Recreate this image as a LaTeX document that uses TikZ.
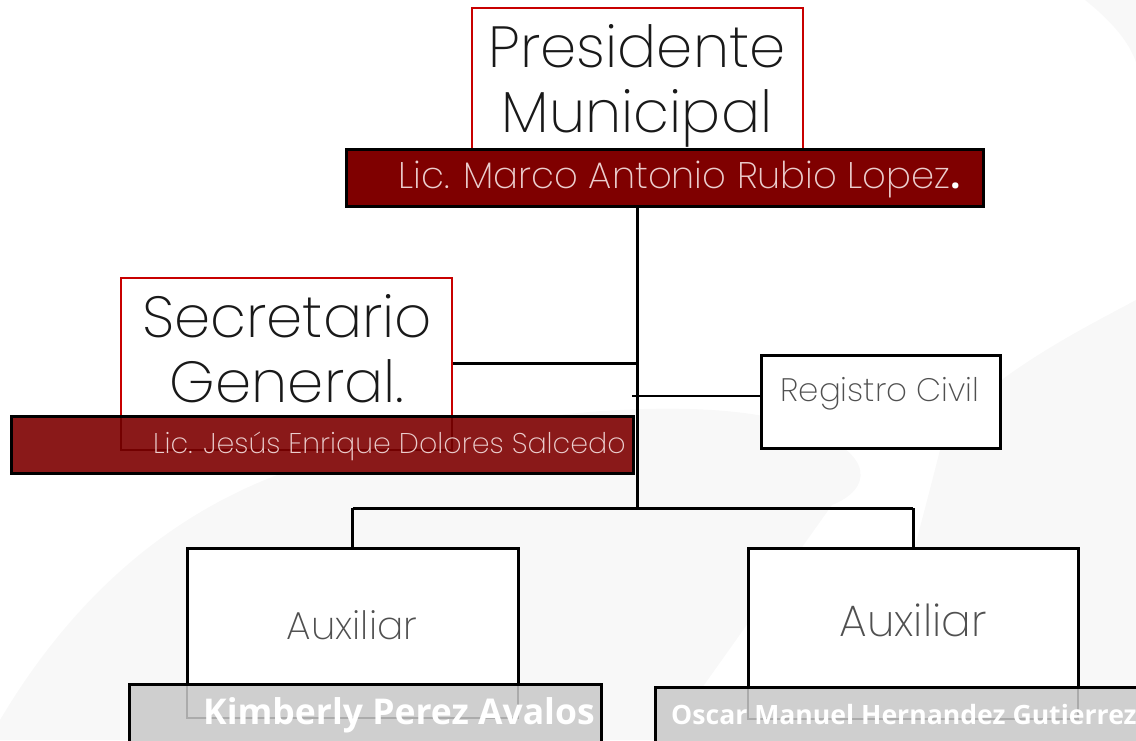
\documentclass[tikz,border=0pt]{standalone}
\usepackage{fontspec}
\IfFontExistsTF{Poppins ExtraLight}{\newfontfamily\thinfont{Poppins ExtraLight}}{\newfontfamily\thinfont{Poppins Light}}
\newfontfamily\namefont{Open Sans}
\definecolor{redline}{HTML}{C80000}
\definecolor{darkbar}{HTML}{7F0000}
\definecolor{redbar}{HTML}{8A1919}
\definecolor{redunder}{HTML}{730000}
\definecolor{graybar}{HTML}{CFCFCF}
\definecolor{grayunder}{HTML}{ABABAB}
\definecolor{bgswoosh}{HTML}{F8F8F8}
\definecolor{txtgray}{HTML}{505050}
\definecolor{pinktxt}{HTML}{EBCDCD}
\begin{document}
\begin{tikzpicture}[x=1pt,y=-1pt,
  box/.style={draw=black, line width=3pt, fill=white, inner sep=0pt},
  redbox/.style={draw=redline, line width=2.2pt, fill=white, inner sep=0pt},
  darkstrip/.style={draw=black, line width=3pt, fill=darkbar, inner sep=0pt},
  redstrip/.style={draw=black, line width=3pt, fill=redbar, inner sep=0pt},
  graystrip/.style={draw=black, line width=3pt, fill=graybar, inner sep=0pt},
  conn/.style={draw=black, line width=3pt},
  thinconn/.style={draw=black, line width=1.3pt},
  titletxt/.style={font=\thinfont\fontsize{58}{62}\selectfont, text=black!90, inner sep=0pt, anchor=base},
  subtxt/.style={font=\thinfont\fontsize{37}{42}\selectfont, text=pinktxt, inner sep=0pt},
  unittxt/.style={font=\thinfont\fontsize{39}{44}\selectfont, text=txtgray, inner sep=0pt, anchor=base},
  nametxt/.style={font=\namefont\bfseries, text=white, inner sep=0pt, anchor=base west}
]
\useasboundingbox (0,0) rectangle (1136,740);
\clip (0,0) rectangle (1136,740);
% background swooshes
\fill[bgswoosh] (0,740) -- (0,720) .. controls (80,585) and (190,495) .. (330,458)
   .. controls (500,412) and (700,392) .. (800,425) .. controls (880,455) and (870,490) .. (832,505)
   -- (665,740) -- cycle;
\fill[bgswoosh] (945,430) .. controls (920,530) and (890,640) .. (862,740) -- (1136,740) -- (1136,300)
   .. controls (1080,330) and (1000,370) .. (945,430) -- cycle;
\fill[bgswoosh] (1085,0) .. controls (1110,20) and (1128,40) .. (1136,62) -- (1136,0) -- cycle;

% coordinates for junctions
\coordinate (jB) at (637,508);
\coordinate (rl) at (632,396);

% connectors
\draw[conn] (637,206) -- (jB);
\draw[conn] (452,363) -- (637,363);
\draw[thinconn] (rl) -- (761,396);
\draw[conn] (352.5,508) -- (913,508);
\draw[conn] (352.5,508) -- (352.5,548);
\draw[conn] (913,508) -- (913,548);

% Presidente
\node[redbox, minimum width=331pt, minimum height=167pt] (presbox) at (637.5,91.5) {};
\node[titletxt] (presA) at (637,67) {Presidente};
\node[titletxt] (presB) at (637,132) {Municipal};
\node[darkstrip, minimum width=637pt, minimum height=57pt] (bar1) at (664.5,177.5) {};
\node[subtxt, anchor=base west] (presname) at (398,188) {Lic. Marco Antonio Rubio Lopez{\namefont\bfseries\color{white}.}};

% Secretario
\node[redbox, minimum width=331pt, minimum height=172pt] (secbox) at (286.5,364) {};
\node[titletxt] (secA) at (287,337) {Secretario};
\node[titletxt] (secB) at (287,402) {General.};
\node[redstrip, minimum width=622pt, minimum height=57pt] (bar2) at (322,444.5) {};
\draw[redunder, line width=2.2pt] (121,417.5) -- (121,450) -- (452,450) -- (452,417.5);
\node[subtxt, font=\thinfont\fontsize{28.5}{32}\selectfont, anchor=base east] (secname) at (626,453) {Lic. Jesús Enrique Dolores Salcedo};

% Registro Civil
\node[box, minimum width=239pt, minimum height=93pt] (regbox) at (880.5,401.5) {};
\node[unittxt, font=\thinfont\fontsize{32.5}{36}\selectfont] (regtxt) at (880,401) {Registro Civil};

% Auxiliar left
\node[box, minimum width=331pt, minimum height=170pt] (aux1) at (352.5,633) {};
\node[unittxt] (aux1txt) at (352,639) {Auxiliar};
\node[graystrip, minimum width=472pt, minimum height=76pt] (bar3) at (365,722) {};
\draw[grayunder, line width=2.5pt] (187,686) -- (187,718) -- (518,718) -- (518,686);
\node[nametxt, font=\namefont\bfseries\fontsize{35.5}{40}\selectfont] (name1) at (203,724) {Kimberly Perez Avalos};

% Auxiliar right
\node[box, minimum width=330pt, minimum height=170pt] (aux2) at (913,633) {};
\node[unittxt, font=\thinfont\fontsize{44}{48}\selectfont] (aux2txt) at (913,636) {Auxiliar};
\node[graystrip, minimum width=505pt, minimum height=73pt] (bar4) at (907.5,723.5) {};
\draw[grayunder, line width=2.5pt] (748,689) -- (748,719) -- (1078,719) -- (1078,689);
\node[nametxt, font=\namefont\bfseries\fontsize{26.6}{30}\selectfont] (name2) at (671,724) {Oscar Manuel Hernandez Gutierrez};
\end{tikzpicture}
\end{document}
